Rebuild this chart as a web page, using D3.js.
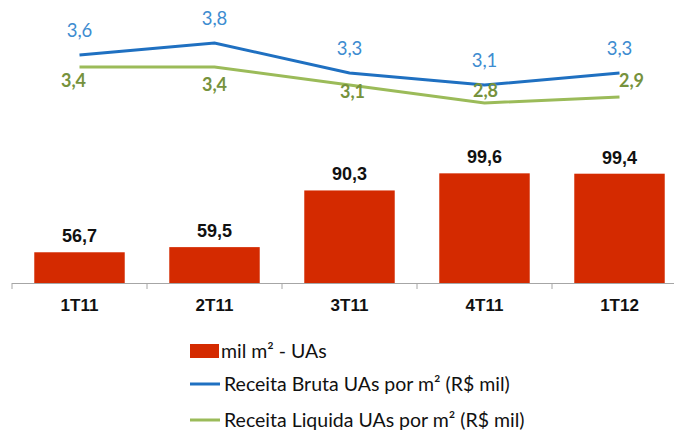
<!DOCTYPE html>
<html>
<head>
<meta charset="utf-8">
<script src="https://cdn.jsdelivr.net/npm/d3@7"></script>
<style>
  body { margin: 0; background: #fff; }
</style>
</head>
<body>
<div id="chart"></div>
<script>
// quarters and values
const quarters = ["1T11", "2T11", "3T11", "4T11", "1T12"];
const areaUAs = [56.7, 59.5, 90.3, 99.6, 99.4];           // mil m² - UAs
const receitaBruta = [3.6, 3.8, 3.3, 3.1, 3.3];            // R$ mil por m²
const receitaLiquida = [3.4, 3.4, 3.1, 2.8, 2.9];          // R$ mil por m²
const legendLabels = ["mil m² - UAs", "Receita Bruta UAs por m² (R$ mil)", "Receita Liquida UAs por m² (R$ mil)"];

const W = 674, H = 430;
const red = "#d42a00", blue = "#1f70c1", green = "#9bbb59";
const blueText = "#3d8cd0", greenText = "#76923c";

const svg = d3.select("#chart").append("svg")
  .attr("width", W).attr("height", H);

const x = d3.scaleBand().domain(quarters).range([12, 687]).paddingInner(0.33).paddingOuter(0.165);
const baseY = 283;
// bars start from 40 on the hidden axis
const yBar = d3.scaleLinear().domain([40, 100]).range([baseY, baseY - 110.4]);
const yLine = d3.scaleLinear().domain([2.8, 3.8]).range([103, 43]);

const cx = d => x(d) + x.bandwidth() / 2;

// bars
svg.selectAll("rect.bar").data(quarters).join("rect")
  .attr("class", "bar")
  .attr("x", d => x(d))
  .attr("width", x.bandwidth())
  .attr("y", (d, i) => yBar(areaUAs[i]))
  .attr("height", (d, i) => baseY - yBar(areaUAs[i]))
  .attr("fill", red);

svg.selectAll("text.barlbl").data(quarters).join("text")
  .attr("class", "barlbl")
  .attr("x", cx)
  .attr("y", (d, i) => yBar(areaUAs[i]) - 10)
  .attr("text-anchor", "middle")
  .style("font", "bold 18px 'Liberation Sans Narrow', 'Liberation Sans', sans-serif")
  .attr("fill", "#111")
  .text((d, i) => d3.format(".1f")(areaUAs[i]).replace(".", ","));

// category axis
const gap = x.step() - x.bandwidth();
svg.append("line")
  .attr("x1", 12).attr("x2", W).attr("y1", baseY + 0.5).attr("y2", baseY + 0.5)
  .attr("stroke", "#a6a6a6");
svg.selectAll("line.tick").data(quarters).join("line")
  .attr("class", "tick")
  .attr("x1", d => x(d) - gap / 2)
  .attr("x2", d => x(d) - gap / 2)
  .attr("y1", baseY).attr("y2", baseY + 6)
  .attr("stroke", "#a6a6a6");
svg.selectAll("text.cat").data(quarters).join("text")
  .attr("class", "cat")
  .attr("x", cx)
  .attr("y", 311)
  .attr("text-anchor", "middle")
  .style("font", "bold 17px 'Liberation Sans Narrow', 'Liberation Sans', sans-serif")
  .attr("fill", "#111")
  .text(d => d);

// lines
const line = vals => d3.line().x((d, i) => cx(quarters[i])).y(d => yLine(d))(vals);
svg.append("path").attr("d", line(receitaLiquida))
  .attr("fill", "none").attr("stroke", green).attr("stroke-width", 3);
svg.append("path").attr("d", line(receitaBruta))
  .attr("fill", "none").attr("stroke", blue).attr("stroke-width", 3);

const fmt = v => d3.format(".1f")(v).replace(".", ",");
svg.selectAll("text.bl").data(receitaBruta).join("text")
  .attr("class", "bl")
  .attr("x", (d, i) => cx(quarters[i]))
  .attr("y", d => yLine(d) - 18)
  .attr("text-anchor", "middle")
  .style("font", "18.5px Lato, 'Open Sans', sans-serif")
  .attr("fill", blueText)
  .text(fmt);

// green labels were nudged around the lines in the original
const greenDx = [-6, 0, 3, 1, 12];
const greenDy = [20, 24, 13, -6, -10];
svg.selectAll("text.gl").data(receitaLiquida).join("text")
  .attr("class", "gl")
  .attr("x", (d, i) => cx(quarters[i]) + greenDx[i])
  .attr("y", (d, i) => yLine(d) + greenDy[i])
  .attr("text-anchor", "middle")
  .style("font", "bold 18px Lato, 'Open Sans', sans-serif")
  .attr("fill", greenText)
  .text(fmt);

// legend
const lg = svg.append("g").attr("transform", "translate(190,0)");
lg.append("rect").attr("x", 0).attr("y", 344).attr("width", 29).attr("height", 14).attr("fill", red);
lg.append("line").attr("x1", 0).attr("x2", 30).attr("y1", 384).attr("y2", 384)
  .attr("stroke", blue).attr("stroke-width", 3);
lg.append("line").attr("x1", 0).attr("x2", 30).attr("y1", 420).attr("y2", 420)
  .attr("stroke", green).attr("stroke-width", 3);
lg.selectAll("text").data(legendLabels).join("text")
  .attr("x", (d, i) => i === 0 ? 31 : 34)
  .attr("y", (d, i) => [358, 391, 427][i])
  .style("font", "19.5px Lato, 'Open Sans', sans-serif")
  .attr("fill", "#111")
  .text(d => d);
</script>
</body>
</html>
